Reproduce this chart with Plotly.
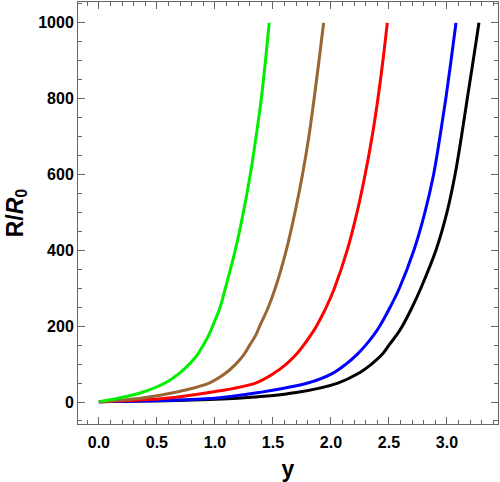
import plotly.graph_objects as go

r_levels = [1, 10, 25, 50, 75, 100, 125, 150, 175, 200, 250, 300, 400, 500, 600, 700, 800, 900, 1000]

y_green = [0.0, 0.17, 0.37, 0.57, 0.69, 0.78, 0.85, 0.90, 0.945, 0.98, 1.045, 1.09, 1.175, 1.245, 1.305, 1.355, 1.40, 1.436, 1.468]
y_brown = [0.0, 0.36, 0.65, 0.95, 1.088, 1.18, 1.25, 1.30, 1.35, 1.386, 1.46, 1.52, 1.615, 1.69, 1.755, 1.81, 1.855, 1.897, 1.937]
y_red = [0.0, 0.58, 0.95, 1.35, 1.505, 1.615, 1.70, 1.765, 1.823, 1.875, 1.96, 2.03, 2.14, 2.225, 2.295, 2.355, 2.405, 2.448, 2.486]
y_blue = [0.0, 1.00, 1.38, 1.80, 2.01, 2.13, 2.224, 2.30, 2.365, 2.42, 2.51, 2.59, 2.715, 2.81, 2.885, 2.94, 2.99, 3.035, 3.078]
y_black = [0.0, 1.20, 1.70, 2.06, 2.235, 2.35, 2.44, 2.50, 2.562, 2.615, 2.70, 2.775, 2.905, 3.00, 3.07, 3.125, 3.175, 3.226, 3.276]

series = [
    (y_black, "black"),
    (y_blue, "rgb(0,0,255)"),
    (y_red, "rgb(255,0,0)"),
    (y_brown, "rgb(153,102,51)"),
    (y_green, "rgb(0,238,0)"),
]

fig = go.Figure()
for xs, col in series:
    fig.add_trace(go.Scatter(
        x=xs, y=r_levels, mode="lines",
        line=dict(color=col, width=3, shape="spline", smoothing=1.0),
        showlegend=False, hoverinfo="skip"
    ))

tick_font = dict(family="Liberation Sans", size=16, color="black", weight="bold")
title_font = dict(family="Liberation Sans", size=23, color="black", weight="bold")
frame = "#666666"

fig.update_xaxes(
    range=[-0.18, 3.44],
    tickvals=[0, 0.5, 1.0, 1.5, 2.0, 2.5, 3.0],
    ticktext=["0.0", "0.5", "1.0", "1.5", "2.0", "2.5", "3.0"],
    ticks="inside", ticklen=7, tickcolor=frame, tickwidth=1,
    minor=dict(dtick=0.1, tick0=0, ticks="inside", ticklen=4, tickcolor=frame),
    showline=True, linecolor=frame, linewidth=1, mirror="allticks",
    showgrid=False, zeroline=False, automargin=False,
    tickfont=tick_font, ticklabelstandoff=4,
    title=dict(text="y", font=title_font, standoff=16),
)
fig.update_yaxes(
    range=[-58, 1055],
    tickvals=[0, 200, 400, 600, 800, 1000],
    ticks="inside", ticklen=7, tickcolor=frame, tickwidth=1,
    minor=dict(dtick=50, tick0=0, ticks="inside", ticklen=4, tickcolor=frame),
    showline=True, linecolor=frame, linewidth=1, mirror="allticks",
    showgrid=False, zeroline=False, automargin=False,
    tickfont=tick_font,
    title=dict(text="R/<i>R</i><sub>0</sub>", font=title_font, standoff=8),
)

fig.update_layout(
    width=500, height=482,
    margin=dict(l=78, r=2, t=2, b=58),
    plot_bgcolor="white", paper_bgcolor="white",
)

# the page's default body margin would push the chart 8px down and right
fig.write_html("out.html", config={"displayModeBar": False},
               post_script="document.body.style.margin='0';")
